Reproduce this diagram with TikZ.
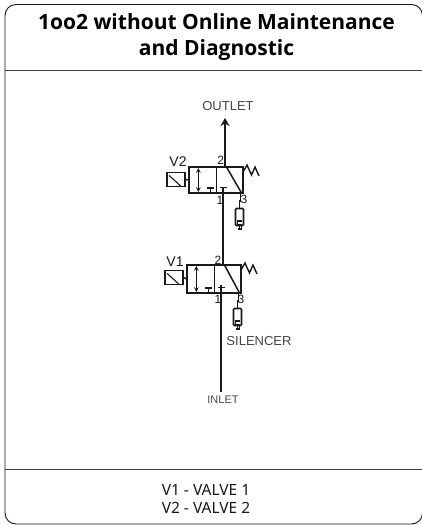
\documentclass[tikz,border=0pt]{standalone}
\usepackage{fontspec}
\setmainfont{Noto Sans}
\newfontfamily\titlefont{Open Sans}
\newfontfamily\labelfont{Liberation Sans}
\usetikzlibrary{arrows,arrows.meta,positioning}
\definecolor{dfink}{RGB}{25,25,25}
\definecolor{dflabel}{RGB}{70,70,70}
\tikzstyle{frame} = [draw=dfink, line width=0.9pt, rounded corners=11pt]
\tikzstyle{rule} = [draw=dfink!85, line width=0.9pt]
\tikzstyle{pipe} = [draw=dfink, line width=2pt]
\tikzstyle{thinpipe} = [draw=dfink, line width=1.1pt]
\tikzstyle{portlabel} = [font=\labelfont\fontsize{12}{12}\selectfont, text=dfink, inner sep=0pt]
\tikzstyle{namelabel} = [font=\labelfont\fontsize{13}{13}\selectfont, text=dflabel, inner sep=0pt]
\begin{document}
\begin{tikzpicture}[x=1pt,y=-1pt]
\useasboundingbox (0,0) rectangle (422,525);
\fill[white] (0,0) rectangle (422,525);
% frame and title
\draw[frame] (5,4.5) rectangle (422.5,524);
\coordinate (headl) at (5,70.5);
\coordinate (headr) at (422,70.5);
\coordinate (footl) at (5,469.5);
\coordinate (footr) at (422,469.5);
\draw[rule] (headl) -- (headr);
\draw[rule] (footl) -- (footr);
\node[align=center, font=\titlefont\bfseries\fontsize{21}{26}\selectfont, inner sep=0pt] (title) at (216.5,37) {1oo2 without Online Maintenance\\and Diagnostic};
\node[align=center, font=\fontsize{15.5}{18}\selectfont, text=dfink, inner sep=0pt] (legend) at (206,499) {V1 - VALVE 1\\V2 - VALVE 2};
% both valves, V1 is the lower one
\foreach \v/\dx/\dy/\hgt in {two/0/0/26, one/-2/98/28} {
  \begin{scope}[shift={(\dx,\dy)}]
  \node[thinpipe, line width=1.8pt, minimum width=54pt, minimum height=\hgt pt, inner sep=0pt] (body\v) at (216.3,167+\hgt/2) {};
  \node[thinpipe, line width=1.8pt, minimum width=18pt, minimum height=14pt, inner sep=0pt] (coil\v) at (176,179.5) {};
  \coordinate (div\v) at (216.5,167);
  \draw[thinpipe, line width=1.4pt] (coil\v.east) -- (body\v.west);
  \draw[thinpipe] (coil\v.south west) ++(15,-1) -- ++(-12,-11);
  \draw[thinpipe, line width=1.4pt] (div\v) -- (div\v |- body\v.south);
  % flow arrows and blocked ports
  \draw[thinpipe, <->, >=stealth] (198.3,168) -- (198.3,167+\hgt-1);
  \draw[thinpipe, line width=1.4pt] (207,167+\hgt-5) -- (214,167+\hgt-5) (210.7,167+\hgt-5) -- (210.7,167+\hgt);
  \draw[thinpipe, line width=1.4pt] (220,167+\hgt-5.5) -- (227,167+\hgt-5.5);
  \draw[pipe, line width=1.5pt] (226.5,167) -- (241.5,167+\hgt);
  % spring
  \draw[thinpipe, line width=1.4pt] (243,172) -- (247,165) -- (251.5,175) -- (255,167) -- (259,176);
  % silencer
  \coordinate (vent\v) at (240.5,167+\hgt);
  \node[thinpipe, line width=1.6pt, minimum width=8pt, minimum height=17pt, inner sep=0pt, rounded corners=1pt] (sil\v) at (239.5,217+\hgt-26) {};
  \draw[thinpipe, line width=1.4pt] (vent\v) -- ++(0,8) -| (sil\v.north);
  \draw[thinpipe] ([xshift=2pt,yshift=-4pt]sil\v.center) -- ++(-4,0) -- ++(0,4) -- ++(4,0) -- ++(0,4) -- ++(-4,0);
  \draw[thinpipe, line width=1.4pt] (sil\v.south) -- ++(0,2);
  \end{scope}
}
% outlet, link between the valves, inlet
\coordinate (outtop) at (225,118);
\coordinate (linktop) at (223.3,187);
\coordinate (linkbot) at (223.3,265);
\coordinate (intop) at (221,285);
\coordinate (inbot) at (221,392);
\draw[pipe, -{Stealth[length=8pt,width=9pt]}] (225,167) -- (outtop);
\draw[pipe] (linktop) -- (linkbot);
\draw[pipe] (intop) -- (inbot);
% labels
\node[namelabel] (outlet) at (228,106) {OUTLET};
\node[namelabel] (silencer) at (259,341) {SILENCER};
\node[portlabel, font=\labelfont\fontsize{11}{11}\selectfont, text=dflabel] (inlet) at (223,400) {INLET};
\node[portlabel, font=\labelfont\fontsize{14}{14}\selectfont] (vtwo) at (178,162) {V2};
\node[portlabel, font=\labelfont\fontsize{14}{14}\selectfont] (vone) at (175,262) {V1};
\node[portlabel] (ptwoa) at (220.7,160) {2};
\node[portlabel] (ptwob) at (220,200) {1};
\node[portlabel] (ptwoc) at (244,199) {3};
\node[portlabel] (ponea) at (218,260) {2};
\node[portlabel] (poneb) at (218,299) {1};
\node[portlabel] (ponec) at (241,299) {3};
\end{tikzpicture}
\end{document}
